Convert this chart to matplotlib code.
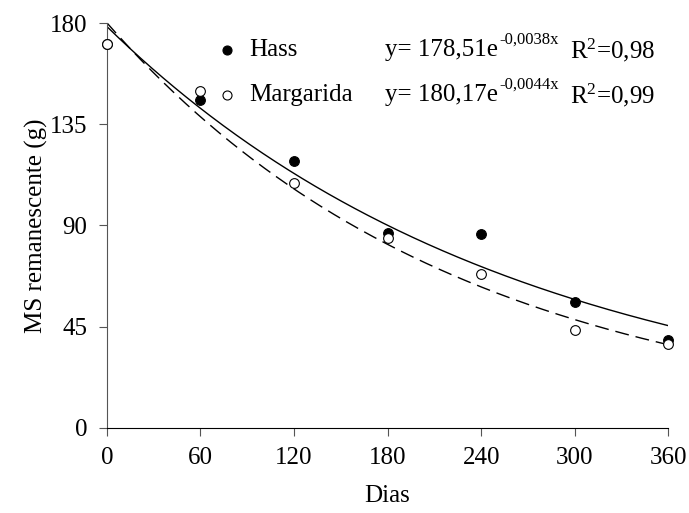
import numpy as np
import matplotlib.pyplot as plt

plt.rcParams["font.family"] = ["Liberation Serif", "DejaVu Serif"]
plt.rcParams["mathtext.fontset"] = "custom"
plt.rcParams["mathtext.rm"] = "Liberation Serif"
plt.rcParams["mathtext.it"] = "Liberation Serif:italic"

dias = [0, 60, 120, 180, 240, 300, 360]
hass = [170.5, 146.0, 118.8, 86.5, 86.1, 55.9, 39.1]
margarida = [170.7, 150.0, 108.7, 84.6, 68.3, 43.6, 37.3]

# fitted exponential models as printed on the chart
hass_a, hass_b = 178.51, -0.0038
marg_a, marg_b = 180.17, -0.0044
hass_eq = ("y= 178,51e", "-0,0038x", "0,98")
marg_eq = ("y= 180,17e", "-0,0044x", "0,99")

fig = plt.figure(figsize=(6.89, 5.13), dpi=100)
ax = fig.add_axes([0.155, 0.166, 0.815, 0.789])

t = np.linspace(0, 360, 300)
ax.plot(t, hass_a * np.exp(hass_b * t), "k-", lw=1.0)
ax.plot(t, marg_a * np.exp(marg_b * t), "k--", lw=1.0, dashes=(10, 5))

ax.plot(dias, hass, "o", ms=7, mfc="black", mec="black", mew=0.8, clip_on=False, zorder=3)
ax.plot(dias, margarida, "o", ms=7, mfc="white", mec="black", mew=0.8, clip_on=False, zorder=4)

ax.set_xlim(0, 360)
ax.set_ylim(0, 180)
ax.set_xticks(dias)
ax.set_yticks([0, 45, 90, 135, 180])
ax.spines["top"].set_visible(False)
ax.spines["right"].set_visible(False)
ax.spines["left"].set_color("#555555")
ax.spines["bottom"].set_color("black")
ax.tick_params(labelsize=18, direction="out", length=6, color="#555555", pad=8)
ax.set_xlabel("Dias", fontsize=18, labelpad=11)
ax.set_ylabel("MS remanescente (g)", fontsize=18, labelpad=1)

# legend with equations
fs = 18
rows = [(0.933, "black", "Hass", hass_eq), (0.822, "white", "Margarida", marg_eq)]
for yy, face, name, (eq, sup, r2) in rows:
    ax.plot([0.214], [yy], "o", ms=6.5, mfc=face, mec="black", mew=0.8,
            transform=ax.transAxes, clip_on=False)
    ax.text(0.253, yy, name, fontsize=fs, va="center", transform=ax.transAxes)
    main = ax.text(0.496, yy, eq, fontsize=fs, va="center", transform=ax.transAxes)
    ax.annotate(sup, xy=(1, 1), xycoords=main, xytext=(0.5, 5.5),
                textcoords="offset points", fontsize=12, ha="left", va="top")
    ax.text(0.825, yy, r"R$^{\mathrm{2}}$=" + r2, fontsize=fs, va="center",
            transform=ax.transAxes)

fig.savefig("out.png", dpi=100)
